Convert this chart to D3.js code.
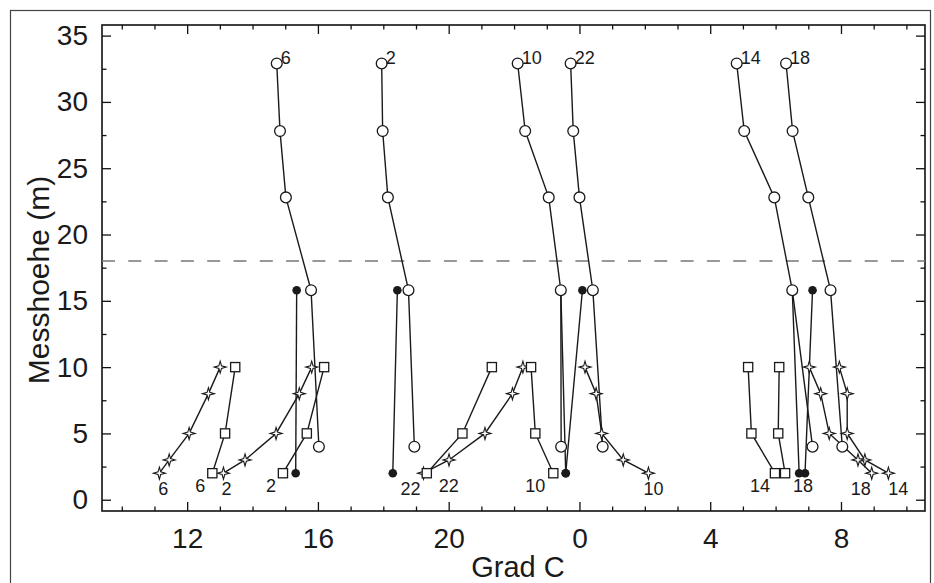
<!DOCTYPE html>
<html>
<head>
<meta charset="utf-8">
<script src="https://cdn.jsdelivr.net/npm/d3@7"></script>
<style>
  body { margin: 0; background: #fff; }
  text { font-family: "Liberation Sans", Arial, Helvetica, sans-serif; fill: #1a1a1a; }
</style>
</head>
<body>
<script>
// ********************** DATA **************************************************************
// hour of each profile (same order in every table below)
var hours = [6, 2, 22, 10, 14, 18];

// tower, open circles
var towerHeights = [32.9, 27.8, 22.8, 15.8, 4];
var towerTemps = [
  [14.74, 14.84, 15.02, 15.79, 16.03],
  [17.95, 17.98, 18.14, 18.77, 18.95],
  [23.73, 23.81, 24.00, 24.41, 24.71],
  [22.11, 22.34, 23.06, 23.43, 23.44],
  [28.81, 29.04, 29.96, 30.51, 31.13],
  [30.32, 30.52, 31.00, 31.68, 32.04]
];

// filled dots
var dotHeights = [15.8, 2];
var dotTemps = [
  [15.35, 15.32],
  [18.43, 18.29],
  [24.09, 23.58],
  [23.43, 23.58],
  [30.51, 30.72],
  [31.13, 30.90]
];

// squares
var boxHeights = [10, 5, 2];
var boxTemps = [
  [13.47, 13.16, 12.77],
  [16.19, 15.66, 14.93],
  [21.32, 20.42, 19.33],
  [22.52, 22.65, 23.20],
  [29.16, 29.26, 29.98],
  [30.11, 30.08, 30.29]
];

// stars
var starHeights = [10, 8, 5, 3, 2];
var starTemps = [
  [13.01, 12.65, 12.06, 11.45, 11.15],
  [15.81, 15.43, 14.72, 13.77, 13.11],
  [22.27, 21.95, 21.11, 20.01, 19.23],
  [24.17, 24.51, 24.68, 25.34, 26.11],
  [31.95, 32.19, 32.19, 32.73, 33.45],
  [31.03, 31.38, 31.64, 32.52, 32.94]
];

var xTicks = [12, 16, 20, 24, 28, 32];
var xTickLabels = ["12", "16", "20", "0", "4", "8"];
var yTicks = [0, 5, 10, 15, 20, 25, 30, 35];
var refHeight = 18;

// which lowest point gets the hour written under it: [series, profile]
var bottomLabels = [["star", 0], ["box", 0], ["star", 1], ["box", 1], ["star", 2], ["box", 2],
                    ["box", 3], ["star", 3], ["box", 4], ["dot", 5], ["star", 5], ["star", 4]];

// ********************** LAYOUT **************************************************************
var width = 934, height = 583;
var plotLeft = 102, plotRight = 925, plotTop = 25, plotBottom = 511;
// label offsets (px) from that lowest point, same order as bottomLabels
var labelNudge = [[4, 22], [-12, 19], [3, 22], [-12, 19], [-13, 22], [22, 19],
                  [-18, 19], [5, 22], [-15, 19], [-2, 19], [-11, 22], [10, 22]];

var svg = d3.select("body").append("svg")
  .attr("width", width)
  .attr("height", height);

var x = d3.scaleLinear().domain([9.395, 34.57]).range([plotLeft, plotRight]);
var y = d3.scaleLinear().domain([-0.85, 35.8]).range([plotBottom, plotTop]);

// outer border of the figure
svg.append("rect")
  .attr("x", 10.5).attr("y", 10.5)
  .attr("width", 920).attr("height", 600)
  .attr("fill", "none")
  .attr("stroke", "#444")
  .attr("stroke-width", 1.2);

// ********************** AXES **************************************************************
var minorX = d3.range(10, 35, 1).filter(function(d) { return xTicks.indexOf(d) < 0; });
var minorY = d3.range(2.5, 35, 5);

function styleAxis(g) {
  g.select(".domain").remove();
  g.selectAll(".tick line").attr("stroke", "#111").attr("stroke-width", 1.3);
}

// bottom
svg.append("g").attr("transform", "translate(0," + plotBottom + ")")
  .call(d3.axisBottom(x).tickValues(xTicks).tickSize(-9).tickSizeOuter(0).tickPadding(17)
    .tickFormat(function(d, i) { return xTickLabels[i]; }))
  .call(styleAxis)
  .selectAll("text").style("font-size", "28px").style("font-family", "Liberation Sans, Arial, sans-serif");
svg.append("g").attr("transform", "translate(0," + plotBottom + ")")
  .call(d3.axisBottom(x).tickValues(minorX).tickSize(-4.5).tickFormat(""))
  .call(styleAxis);

// top
svg.append("g").attr("transform", "translate(0," + plotTop + ")")
  .call(d3.axisTop(x).tickValues(xTicks).tickSize(-9).tickFormat(""))
  .call(styleAxis);
svg.append("g").attr("transform", "translate(0," + plotTop + ")")
  .call(d3.axisTop(x).tickValues(minorX).tickSize(-4.5).tickFormat(""))
  .call(styleAxis);

// left
svg.append("g").attr("transform", "translate(" + plotLeft + ",0)")
  .call(d3.axisLeft(y).tickValues(yTicks).tickSize(-9).tickPadding(14))
  .call(styleAxis)
  .selectAll("text").style("font-size", "28px").style("font-family", "Liberation Sans, Arial, sans-serif");
svg.append("g").attr("transform", "translate(" + plotLeft + ",0)")
  .call(d3.axisLeft(y).tickValues(minorY).tickSize(-4.5).tickFormat(""))
  .call(styleAxis);

// right
svg.append("g").attr("transform", "translate(" + plotRight + ",0)")
  .call(d3.axisRight(y).tickValues(yTicks).tickSize(-9).tickFormat(""))
  .call(styleAxis);
svg.append("g").attr("transform", "translate(" + plotRight + ",0)")
  .call(d3.axisRight(y).tickValues(minorY).tickSize(-4.5).tickFormat(""))
  .call(styleAxis);

// frame
svg.append("rect")
  .attr("x", plotLeft).attr("y", plotTop)
  .attr("width", plotRight - plotLeft).attr("height", plotBottom - plotTop)
  .attr("fill", "none")
  .attr("stroke", "#111")
  .attr("stroke-width", 1.6);

// axis titles
svg.append("text")
  .attr("x", 518)
  .attr("y", 577)
  .attr("text-anchor", "middle")
  .style("font-size", "29px")
  .text("Grad C");

svg.append("text")
  .attr("transform", "translate(49," + 280 + ") rotate(-90)")
  .attr("text-anchor", "middle")
  .style("font-size", "30px")
  .text("Messhoehe (m)");

// dashed reference height
svg.append("line")
  .attr("x1", plotLeft).attr("x2", plotRight)
  .attr("y1", y(refHeight)).attr("y2", y(refHeight))
  .attr("stroke", "#777")
  .attr("stroke-width", 1.6)
  .attr("stroke-dasharray", "13,13.3");

// ********************** PROFILES **************************************************************
var line = d3.line()
  .x(function(d) { return x(d[0]); })
  .y(function(d) { return y(d[1]); });

function points(temps, heights) {
  return temps.map(function(row) {
    return row.map(function(t, i) { return [t, heights[i]]; });
  });
}

var series = {
  tower: points(towerTemps, towerHeights),
  dot: points(dotTemps, dotHeights),
  box: points(boxTemps, boxHeights),
  star: points(starTemps, starHeights)
};

// lines first
["star", "box", "dot", "tower"].forEach(function(key) {
  svg.append("g").selectAll("path")
    .data(series[key])
    .enter().append("path")
    .attr("d", line)
    .attr("fill", "none")
    .attr("stroke", "#1a1a1a")
    .attr("stroke-width", 1.4);
});

// 4 pointed star
function starPath(R, r) {
  var p = [];
  for (var k = 0; k < 8; k++) {
    var a = k * Math.PI / 4;
    var rad = k % 2 === 0 ? R : r;
    p.push([rad * Math.sin(a), -rad * Math.cos(a)]);
  }
  return "M" + p.join("L") + "Z";
}

var flat = function(rows) { return d3.merge(rows); };

svg.append("g").selectAll("path")
  .data(flat(series.star))
  .enter().append("path")
  .attr("transform", function(d) { return "translate(" + x(d[0]) + "," + y(d[1]) + ")"; })
  .attr("d", starPath(6, 1.9))
  .attr("fill", "white")
  .attr("stroke", "#1a1a1a")
  .attr("stroke-width", 1.1);

svg.append("g").selectAll("rect")
  .data(flat(series.box))
  .enter().append("rect")
  .attr("x", function(d) { return x(d[0]) - 4.6; })
  .attr("y", function(d) { return y(d[1]) - 4.6; })
  .attr("width", 9.2)
  .attr("height", 9.2)
  .attr("fill", "white")
  .attr("stroke", "#1a1a1a")
  .attr("stroke-width", 1.3);

svg.append("g").selectAll("circle")
  .data(flat(series.dot))
  .enter().append("circle")
  .attr("cx", function(d) { return x(d[0]); })
  .attr("cy", function(d) { return y(d[1]); })
  .attr("r", 4.3)
  .attr("fill", "#1a1a1a");

svg.append("g").selectAll("circle")
  .data(flat(series.tower))
  .enter().append("circle")
  .attr("cx", function(d) { return x(d[0]); })
  .attr("cy", function(d) { return y(d[1]); })
  .attr("r", 5.4)
  .attr("fill", "white")
  .attr("stroke", "#1a1a1a")
  .attr("stroke-width", 1.3);

// ********************** HOUR LABELS **************************************************************
// top of every tower profile
svg.append("g").selectAll("text")
  .data(series.tower)
  .enter().append("text")
  .attr("x", function(d) { return x(d[0][0]) + 4; })
  .attr("y", function(d) { return y(d[0][1]) + 1; })
  .style("font-size", "18px")
  .text(function(d, i) { return hours[i]; });

// under the lowest points
svg.append("g").selectAll("text")
  .data(bottomLabels)
  .enter().append("text")
  .attr("x", function(d, i) {
    var row = series[d[0]][d[1]];
    return x(row[row.length - 1][0]) + labelNudge[i][0];
  })
  .attr("y", function(d, i) {
    var row = series[d[0]][d[1]];
    return y(row[row.length - 1][1]) + labelNudge[i][1];
  })
  .attr("text-anchor", "middle")
  .style("font-size", "18px")
  .text(function(d) { return hours[d[1]]; });
</script>
</body>
</html>
